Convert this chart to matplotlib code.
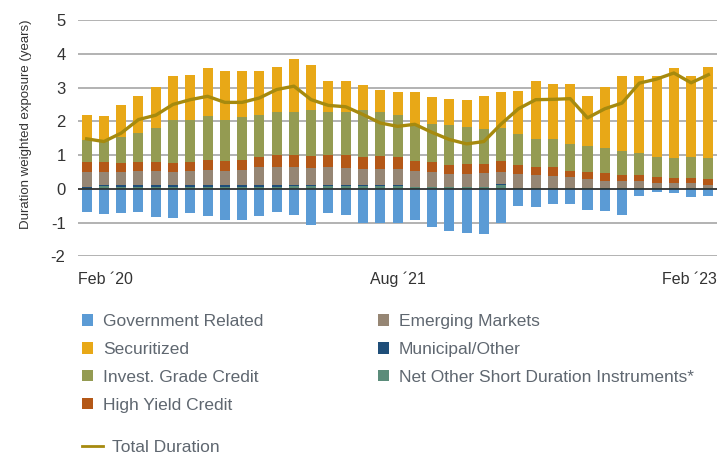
"""
plot.py

Stacked bar chart of duration weighted exposure by sector (Feb '20 - Feb '23)
with the total duration drawn as a line on top.

Usage:
    python plot.py        # saves out.png
"""

import matplotlib
matplotlib.use("Agg")
import matplotlib.pyplot as plt
from matplotlib.lines import Line2D
from matplotlib.patches import Patch
import numpy as np

# ---------------------------------------------------------------------------
# Data (years of duration, monthly Feb 2020 .. Feb 2023)
# ---------------------------------------------------------------------------

months = [f"{m} {y}" for y, ms in
          [(2020, ["Feb", "Mar", "Apr", "May", "Jun", "Jul", "Aug", "Sep", "Oct", "Nov", "Dec"]),
           (2021, ["Jan", "Feb", "Mar", "Apr", "May", "Jun", "Jul", "Aug", "Sep", "Oct", "Nov", "Dec"]),
           (2022, ["Jan", "Feb", "Mar", "Apr", "May", "Jun", "Jul", "Aug", "Sep", "Oct", "Nov", "Dec"]),
           (2023, ["Jan", "Feb"])] for m in ms]

tick_labels = ["Feb \u00b420", "Aug \u00b421", "Feb \u00b423"]

government = [-0.69, -0.75, -0.72, -0.69, -0.84, -0.88, -0.72, -0.82, -0.91, -0.91,
              -0.82, -0.69, -0.78, -1.08, -0.72, -0.78, -1.01, -1.01, -1.01, -0.93,
              -1.12, -1.26, -1.32, -1.35, -1.00, -0.50, -0.53, -0.45, -0.45, -0.62,
              -0.65, -0.78, -0.21, -0.10, -0.13, -0.25, -0.21]
net_other = [0.03, 0.08, 0.06, 0.06, 0.06, 0.06, 0.06, 0.06, 0.06, 0.06,
             0.06, 0.06, 0.08, 0.08, 0.08, 0.08, 0.08, 0.08, 0.08, 0.05,
             0.05, 0.05, 0.05, 0.05, 0.12, 0.02, 0.02, 0.02, 0.02, 0.02,
             0.02, 0.02, 0.02, 0.02, 0.02, 0.02, 0.02]
municipal = [0.02, 0.02, 0.04, 0.04, 0.04, 0.04, 0.04, 0.04, 0.04, 0.04,
             0.04, 0.04, 0.04, 0.04, 0.04, 0.04, 0.04, 0.04, 0.04, 0.01,
             0.01, 0.01, 0.01, 0.01, 0.02, 0.00, 0.00, 0.00, 0.00, 0.00,
             0.00, 0.00, 0.00, 0.00, 0.00, 0.00, 0.00]
emerging = [0.44, 0.41, 0.41, 0.44, 0.44, 0.41, 0.44, 0.47, 0.44, 0.47,
            0.56, 0.56, 0.54, 0.51, 0.54, 0.51, 0.48, 0.48, 0.48, 0.48,
            0.45, 0.37, 0.37, 0.40, 0.37, 0.42, 0.39, 0.35, 0.33, 0.27,
            0.20, 0.20, 0.20, 0.15, 0.15, 0.15, 0.10]
high_yield = [0.30, 0.28, 0.25, 0.25, 0.25, 0.25, 0.25, 0.27, 0.27, 0.27,
              0.28, 0.34, 0.34, 0.33, 0.34, 0.37, 0.34, 0.38, 0.34, 0.27,
              0.28, 0.27, 0.29, 0.26, 0.30, 0.26, 0.23, 0.27, 0.19, 0.20,
              0.25, 0.19, 0.19, 0.17, 0.14, 0.14, 0.16]
invest_grade = [0.65, 0.62, 0.77, 0.86, 1.02, 1.29, 1.26, 1.33, 1.24, 1.29,
                1.25, 1.28, 1.28, 1.36, 1.28, 1.28, 1.38, 1.30, 1.25, 1.06,
                1.13, 1.18, 1.11, 1.05, 0.99, 0.92, 0.84, 0.84, 0.79, 0.78,
                0.74, 0.70, 0.65, 0.60, 0.59, 0.63, 0.62]
securitized = [0.75, 0.74, 0.96, 1.10, 1.21, 1.30, 1.33, 1.41, 1.43, 1.37,
               1.31, 1.33, 1.57, 1.35, 0.90, 0.90, 0.76, 0.65, 0.68, 1.00,
               0.80, 0.77, 0.80, 0.98, 1.07, 1.28, 1.72, 1.63, 1.78, 1.47,
               1.80, 2.24, 2.29, 2.41, 2.68, 2.41, 2.71]
total_duration = [1.48, 1.40, 1.65, 2.05, 2.18, 2.50, 2.64, 2.74, 2.56, 2.56,
                  2.69, 2.94, 3.04, 2.64, 2.47, 2.43, 2.20, 1.95, 1.85, 1.91,
                  1.67, 1.46, 1.33, 1.40, 1.92, 2.37, 2.64, 2.65, 2.67, 2.10,
                  2.37, 2.54, 3.13, 3.25, 3.43, 3.14, 3.38]

# ---------------------------------------------------------------------------
# Style
# ---------------------------------------------------------------------------

plt.rcParams["font.family"] = ["Liberation Sans", "DejaVu Sans"]
plt.rcParams["axes.unicode_minus"] = False  # plain hyphen on "-1", "-2"

COLORS = {
    "Government Related": "#5B9BD5",
    "Securitized": "#E8A817",
    "Invest. Grade Credit": "#949B52",
    "High Yield Credit": "#B45817",
    "Emerging Markets": "#968674",
    "Municipal/Other": "#1F4E79",
    "Net Other Short Duration Instruments*": "#5B8C7A",
}
LINE_COLOR = "#A68A0E"
TEXT_COLOR = "#5F6770"
TICK_COLOR = "#333333"
LEGEND_SIZE = 12.5

# ---------------------------------------------------------------------------
# Chart
# ---------------------------------------------------------------------------

fig = plt.figure(figsize=(7.25, 4.58), dpi=100)
ax = fig.add_axes([0.1076, 0.4404, 0.8814, 0.5159])

x = np.arange(len(months))
width = 0.58

# positive stack, from zero upward
stack = [
    ("Net Other Short Duration Instruments*", net_other),
    ("Municipal/Other", municipal),
    ("Emerging Markets", emerging),
    ("High Yield Credit", high_yield),
    ("Invest. Grade Credit", invest_grade),
    ("Securitized", securitized),
]
bottom = np.zeros(len(months))
for name, vals in stack:
    ax.bar(x, vals, width, bottom=bottom, color=COLORS[name], zorder=2)
    bottom += np.array(vals)

ax.bar(x, government, width, color=COLORS["Government Related"], zorder=2)

ax.plot(x, total_duration, color=LINE_COLOR, linewidth=2.4, zorder=4)
ax.axhline(0, color="#222222", linewidth=1.1, zorder=3)

ax.set_ylim(-2, 5)
ax.set_xlim(-0.5, len(months) - 0.5)
ax.set_yticks(range(-2, 6))
ax.grid(axis="y", color="#A6A6A6", linewidth=1.2, zorder=0)
ax.set_axisbelow(True)
for s in ax.spines.values():
    s.set_visible(False)

ax.set_xticks([-0.5, 18, len(months) - 0.5])
ax.set_xticklabels(tick_labels)
xt = ax.get_xticklabels()
xt[0].set_ha("left")
xt[-1].set_ha("right")
ax.tick_params(axis="x", length=0, pad=11, labelsize=11.5, labelcolor=TICK_COLOR)
ax.tick_params(axis="y", length=0, pad=9, labelsize=12, labelcolor=TICK_COLOR)

ax.set_ylabel("Duration weighted exposure (years)", fontsize=9.5, color=TICK_COLOR)
ax.yaxis.set_label_coords(-0.072, 0.56)

# ---------------------------------------------------------------------------
# Legends (two columns of patches, then the line on its own row)
# ---------------------------------------------------------------------------

def patch_legend(names, x_px, y_px):
    handles = [Patch(facecolor=COLORS[n], edgecolor="none") for n in names]
    leg = fig.legend(handles, names, loc="upper left",
                     bbox_to_anchor=(x_px / 725, 1 - y_px / 458),
                     frameon=False, fontsize=LEGEND_SIZE, borderpad=0,
                     borderaxespad=0, handlelength=0.65, handleheight=0.65,
                     handletextpad=0.55, labelspacing=0.74,
                     labelcolor=TEXT_COLOR)
    return leg

patch_legend(["Government Related", "Securitized", "Invest. Grade Credit",
              "High Yield Credit"], 82, 314)
patch_legend(["Emerging Markets", "Municipal/Other",
              "Net Other Short Duration Instruments*"], 378, 314)

fig.legend([Line2D([], [], color=LINE_COLOR, linewidth=2)], ["Total Duration"],
           loc="upper left", bbox_to_anchor=(82 / 725, 1 - 440 / 458),
           frameon=False, fontsize=LEGEND_SIZE, borderpad=0, borderaxespad=0,
           handlelength=1.2, handletextpad=0.55, labelcolor=TEXT_COLOR)

fig.savefig("out.png", dpi=100)
plt.close(fig)
